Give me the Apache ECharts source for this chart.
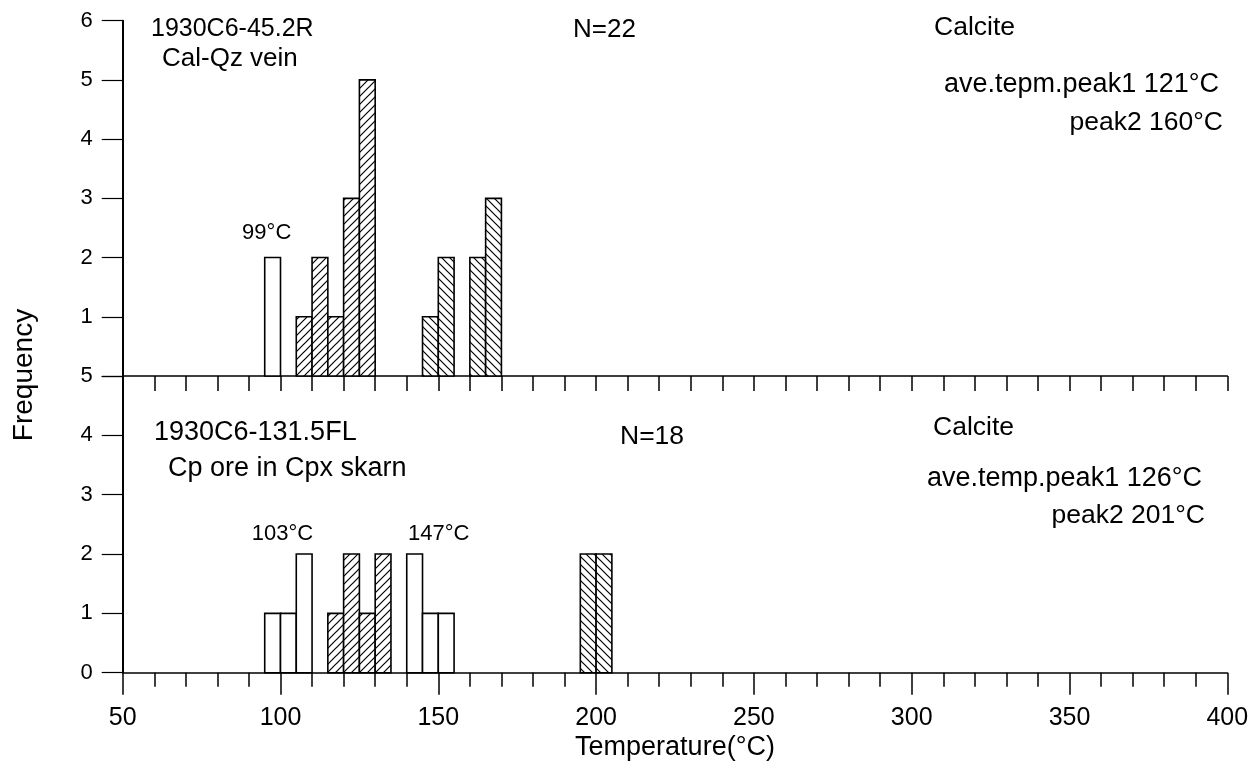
<!DOCTYPE html>
<html>
<head>
<meta charset="utf-8">
<script src="https://cdn.jsdelivr.net/npm/echarts@6/dist/echarts.min.js"></script>
<style>
html,body{margin:0;padding:0;background:#fff;}
#chart{width:1260px;height:771px;}
</style>
</head>
<body>
<div id="chart"></div>
<script>
// ---- data ----
const binWidth = 5;
const topBinStart = [95, 105, 110, 115, 120, 125, 145, 150, 160, 165];
const topCounts   = [2, 1, 2, 1, 3, 5, 1, 2, 2, 3];
const topFill     = ['none', 'fwd', 'fwd', 'fwd', 'fwd', 'fwd', 'back', 'back', 'back', 'back'];

const botBinStart = [95, 100, 105, 115, 120, 125, 130, 140, 145, 150, 195, 200];
const botCounts   = [1, 1, 2, 1, 2, 1, 2, 2, 1, 1, 2, 2];
const botFill     = ['none', 'none', 'none', 'fwd', 'fwd', 'fwd', 'fwd', 'none', 'none', 'none', 'back', 'back'];

const xMin = 50, xMax = 400;
const topYMax = 6, botYMax = 5;

// ---- hatch patterns ----
function makeHatch(dir) {
  const s = 8;
  const c = document.createElement('canvas');
  c.width = s; c.height = s;
  const g = c.getContext('2d');
  g.fillStyle = '#fff';
  g.fillRect(0, 0, s, s);
  g.strokeStyle = '#000';
  g.lineWidth = 1.2;
  g.beginPath();
  if (dir === 'fwd') {
    g.moveTo(-1, s + 1); g.lineTo(s + 1, -1);
    g.moveTo(-1, 1); g.lineTo(1, -1);
    g.moveTo(s - 1, s + 1); g.lineTo(s + 1, s - 1);
  } else {
    g.moveTo(-1, -1); g.lineTo(s + 1, s + 1);
    g.moveTo(-1, s - 1); g.lineTo(1, s + 1);
    g.moveTo(s - 1, -1); g.lineTo(s + 1, 1);
  }
  g.stroke();
  return c;
}
const fills = {
  none: '#ffffff',
  fwd: { image: makeHatch('fwd'), repeat: 'repeat' },
  back: { image: makeHatch('back'), repeat: 'repeat' }
};
const fillKeys = ['none', 'fwd', 'back'];

function buildData(starts, counts, kinds) {
  return starts.map((s, i) => [s, s + binWidth, counts[i], fillKeys.indexOf(kinds[i])]);
}

function renderItem(params, api) {
  const x0 = api.value(0), x1 = api.value(1), h = api.value(2);
  const kind = fillKeys[api.value(3)];
  const p0 = api.coord([x0, h]);
  const p1 = api.coord([x1, 0]);
  return {
    type: 'rect',
    shape: { x: p0[0], y: p0[1], width: p1[0] - p0[0], height: p1[1] - p0[1] },
    style: { fill: fills[kind], stroke: '#000', lineWidth: 1.6 }
  };
}

const FONT = "'Liberation Sans', Arial, sans-serif";
const black = '#000';

function txt(text, x, y, size, align) {
  return {
    type: 'text', x: x, y: y, silent: true,
    style: {
      text: text, fill: black,
      font: size + 'px ' + FONT,
      align: align, textAlign: align,
      verticalAlign: 'middle', textVerticalAlign: 'middle'
    }
  };
}

const chart = echarts.init(document.getElementById('chart'), null, { renderer: 'canvas' });

const gridLeft = 122.7, gridRight = 32.7;

const option = {
  animation: false,
  backgroundColor: '#fff',
  grid: [
    { left: gridLeft, right: gridRight, top: 20.7, height: 355.3 },
    { left: gridLeft, right: gridRight, top: 376, height: 296.7 }
  ],
  xAxis: [
    {
      type: 'value', gridIndex: 0, min: xMin, max: xMax, interval: 50,
      axisLine: { show: true, lineStyle: { color: black, width: 1.5 } },
      axisTick: { show: true, inside: false, length: 15, lineStyle: { color: black, width: 1.5 } },
      minorTick: { show: true, splitNumber: 5, length: 15, lineStyle: { color: black, width: 1.5 } },
      axisLabel: { show: false },
      splitLine: { show: false }
    },
    {
      type: 'value', gridIndex: 1, min: xMin, max: xMax, interval: 50,
      axisLine: { show: true, lineStyle: { color: black, width: 1.5 } },
      axisTick: { show: true, inside: false, length: 22, lineStyle: { color: black, width: 1.5 } },
      minorTick: { show: true, splitNumber: 5, length: 14, lineStyle: { color: black, width: 1.5 } },
      axisLabel: { show: true, margin: 33, color: black, fontSize: 25, fontFamily: FONT },
      splitLine: { show: false },
      name: 'Temperature(°C)', nameLocation: 'middle', nameGap: 61,
      nameTextStyle: { color: black, fontSize: 27, fontFamily: FONT }
    }
  ],
  yAxis: [
    {
      type: 'value', gridIndex: 0, min: 0, max: topYMax, interval: 1,
      axisLine: { show: true, lineStyle: { color: black, width: 2 } },
      axisTick: { show: true, inside: false, length: 21, lineStyle: { color: black, width: 1.2 } },
      axisLabel: { show: true, margin: 30, color: black, fontSize: 22, fontFamily: FONT,
        formatter: v => (v === 0 ? '' : String(v)) },
      splitLine: { show: false }
    },
    {
      type: 'value', gridIndex: 1, min: 0, max: botYMax, interval: 1,
      axisLine: { show: true, lineStyle: { color: black, width: 2 } },
      axisTick: { show: true, inside: false, length: 21, lineStyle: { color: black, width: 1.2 } },
      axisLabel: { show: true, margin: 30, color: black, fontSize: 22, fontFamily: FONT },
      splitLine: { show: false }
    }
  ],
  series: [
    {
      type: 'custom', xAxisIndex: 0, yAxisIndex: 0, renderItem: renderItem,
      data: buildData(topBinStart, topCounts, topFill), silent: true, clip: false
    },
    {
      type: 'custom', xAxisIndex: 1, yAxisIndex: 1, renderItem: renderItem,
      data: buildData(botBinStart, botCounts, botFill), silent: true, clip: false
    }
  ],
  graphic: [
    txt('1930C6-45.2R', 151, 29.5, 25, 'left'),
    txt('Cal-Qz vein', 162, 59, 26, 'left'),
    txt('N=22', 573, 29.5, 26, 'left'),
    txt('Calcite', 934, 27.5, 26.5, 'left'),
    txt('ave.tepm.peak1 121°C', 1219, 84.7, 27, 'right'),
    txt('peak2 160°C', 1223, 122.5, 26.5, 'right'),
    txt('99°C', 266.7, 232.5, 22, 'center'),

    txt('1930C6-131.5FL', 154, 433, 27, 'left'),
    txt('Cp ore in Cpx skarn', 168, 469, 27, 'left'),
    txt('N=18', 620, 437, 26.5, 'left'),
    txt('Calcite', 933, 427.5, 26.5, 'left'),
    txt('ave.temp.peak1 126°C', 1202, 479, 27, 'right'),
    txt('peak2 201°C', 1205, 516, 26.5, 'right'),
    txt('103°C', 282.5, 534, 22, 'center'),
    txt('147°C', 438.8, 534, 22, 'center'),

    {
      type: 'text', x: 24, y: 375, rotation: Math.PI / 2, silent: true,
      style: { text: 'Frequency', fill: black, font: '28px ' + FONT,
        align: 'center', textAlign: 'center', verticalAlign: 'middle', textVerticalAlign: 'middle' }
    }
  ]
};

chart.setOption(option);
</script>
</body>
</html>
